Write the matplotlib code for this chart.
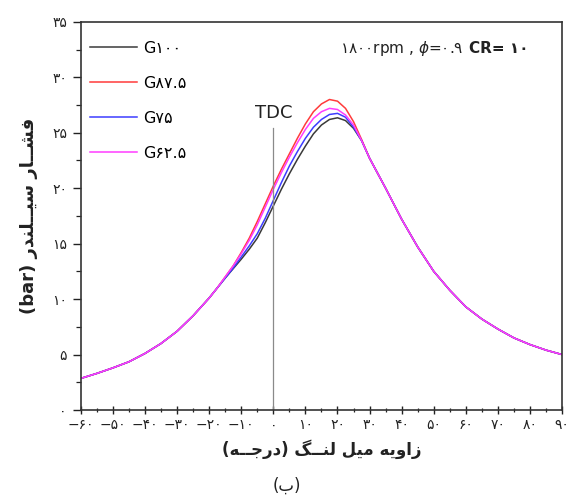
import matplotlib
matplotlib.use("Agg")
import matplotlib.pyplot as plt
from matplotlib.ticker import MultipleLocator

# crank angle (deg) and cylinder pressure (bar)
left_angles = [-60, -55, -50, -45, -40, -35, -30, -25, -20, -17.5]
mid_angles = [-15, -12.5, -10, -7.5, -5, -2.5, 0, 2.5, 5, 7.5, 10, 12.5,
              15, 17.5, 20, 22.5, 25, 27.5]
right_angles = [30, 32.5, 35, 37.5, 40, 45, 50, 55, 60, 65, 70, 75, 80, 85, 90]
angles = left_angles + mid_angles + right_angles

left_common = [2.85, 3.3, 3.8, 4.35, 5.1, 6.0, 7.1, 8.5, 10.1, 11.0]
right_common = [22.7, 21.35, 20.0, 18.6, 17.2, 14.7, 12.5, 10.8, 9.3, 8.2,
                7.3, 6.5, 5.9, 5.4, 5.0]

g100_mid = [11.9, 12.75, 13.6, 14.5, 15.5, 16.9, 18.4, 19.9, 21.3, 22.6, 23.8,
            24.9, 25.7, 26.2, 26.35, 26.1, 25.4, 24.3]
g875_mid = [12.0, 13.0, 14.2, 15.5, 17.0, 18.6, 20.2, 21.7, 23.1, 24.5, 25.8,
            26.9, 27.6, 28.0, 27.85, 27.2, 26.0, 24.4]
g75_mid = [11.9, 12.8, 13.8, 14.8, 15.9, 17.3, 18.9, 20.5, 22.0, 23.3, 24.5,
           25.5, 26.2, 26.65, 26.75, 26.4, 25.5, 24.3]
g625_mid = [12.0, 13.0, 14.1, 15.3, 16.7, 18.3, 19.9, 21.4, 22.8, 24.1, 25.3,
            26.3, 26.9, 27.2, 27.1, 26.6, 25.7, 24.3]

series_labels = ["G100", "G87.5", "G75", "G62.5"]
series_colors = ["#3a3a3a", "#ff3b3b", "#3d3dff", "#ff3cff"]
series_mid = [g100_mid, g875_mid, g75_mid, g625_mid]

x_ticks = list(range(-60, 91, 10))
y_ticks = list(range(0, 36, 5))

FA_DIGITS = str.maketrans("0123456789", "۰۱۲۳۴۵۶۷۸۹")


def fa_num(s):
    return str(s).translate(FA_DIGITS)


# simple persian shaping (matplotlib has no complex text layout)
FORMS = {
    "ا": (0xFE8D, 0xFE8E, None, None),
    "ب": (0xFE8F, 0xFE90, 0xFE91, 0xFE92),
    "ج": (0xFE9D, 0xFE9E, 0xFE9F, 0xFEA0),
    "د": (0xFEA9, 0xFEAA, None, None),
    "ر": (0xFEAD, 0xFEAE, None, None),
    "ز": (0xFEAF, 0xFEB0, None, None),
    "س": (0xFEB1, 0xFEB2, 0xFEB3, 0xFEB4),
    "ش": (0xFEB5, 0xFEB6, 0xFEB7, 0xFEB8),
    "ف": (0xFED1, 0xFED2, 0xFED3, 0xFED4),
    "گ": (0xFB92, 0xFB93, 0xFB94, 0xFB95),
    "ل": (0xFEDD, 0xFEDE, 0xFEDF, 0xFEE0),
    "م": (0xFEE1, 0xFEE2, 0xFEE3, 0xFEE4),
    "ن": (0xFEE5, 0xFEE6, 0xFEE7, 0xFEE8),
    "و": (0xFEED, 0xFEEE, None, None),
    "ه": (0xFEE9, 0xFEEA, 0xFEEB, 0xFEEC),
    "ی": (0xFBFC, 0xFBFD, 0xFBFE, 0xFBFF),
}
TATWEEL = "ـ"


def dual(c):
    return c == TATWEEL or (c in FORMS and FORMS[c][2] is not None)


def joining(c):
    return c == TATWEEL or c in FORMS


def rtl(text):
    out = []
    for i, c in enumerate(text):
        if c not in FORMS:
            out.append(c)
            continue
        prev = text[i - 1] if i > 0 else ""
        nxt = text[i + 1] if i + 1 < len(text) else ""
        jp = prev != "" and dual(prev)
        jn = nxt != "" and joining(nxt) and dual(c)
        iso, fin, ini, med = FORMS[c]
        if jp and jn:
            cp = med
        elif jp:
            cp = fin
        elif jn:
            cp = ini
        else:
            cp = iso
        out.append(chr(cp))
    vis = "".join(reversed(out))
    return vis.translate(str.maketrans("()", ")("))


plt.rcParams["font.family"] = ["DejaVu Sans"]

fig = plt.figure(figsize=(5.73, 4.97), dpi=100)
ax = fig.add_axes([0.141, 0.175, 0.84, 0.781])

for lab, col, mid in zip(series_labels, series_colors, series_mid):
    p = left_common + mid + right_common
    ax.plot(angles, p, color=col, lw=1.1, label="G" + fa_num(lab[1:]))

ax.plot([0, 0], [0, 25.4], color="#8a8a8a", lw=0.9)
ax.text(0, 26.0, "TDC", ha="center", va="bottom", fontsize=13, color="#222222")

ax.text(61, 32.6, fa_num("1800") + "rpm , $\\phi$=" + fa_num("0.9") + "  ",
        ha="right", va="center", fontsize=11, color="#222222")
ax.text(61, 32.6, "CR= " + fa_num("10"), ha="left", va="center",
        fontsize=11, fontweight="bold", color="#222222")

ax.set_xlim(-60, 90)
ax.set_ylim(0, 35)
ax.set_xticks(x_ticks)
ax.set_xticklabels([fa_num(v).replace("-", "−") for v in x_ticks])
ax.set_yticks(y_ticks)
ax.set_yticklabels([fa_num(v) for v in y_ticks])
ax.xaxis.set_minor_locator(MultipleLocator(5))
ax.yaxis.set_minor_locator(MultipleLocator(2.5))
ax.tick_params(which="major", direction="out", length=6, width=1.0,
               labelsize=10, colors="#222222", pad=4)
ax.tick_params(which="minor", direction="out", length=3.5, width=0.9,
               colors="#222222")
ax.tick_params(axis="x", which="both", direction="inout", pad=3)
for s in ax.spines.values():
    s.set_color("#333333")
    s.set_linewidth(1.2)

ax.set_xlabel(rtl("زاویه میل لنــگ (درجــه)"), fontsize=12, fontweight="bold",
              labelpad=5, color="#222222")
ax.set_ylabel("(bar) " + rtl("فشــار سیــلندر"), fontsize=13, fontweight="bold",
              labelpad=10, color="#222222")

ax.legend(loc="upper left", bbox_to_anchor=(-0.005, 0.98), frameon=False,
          fontsize=11.5, handlelength=3.0, labelspacing=1.25,
          borderaxespad=0.3, handletextpad=0.35)

fig.text(0.5, 0.022, "(" + rtl("ب") + ")", ha="center", va="center",
         fontsize=12, color="#222222")

fig.savefig("out.png", dpi=100)
